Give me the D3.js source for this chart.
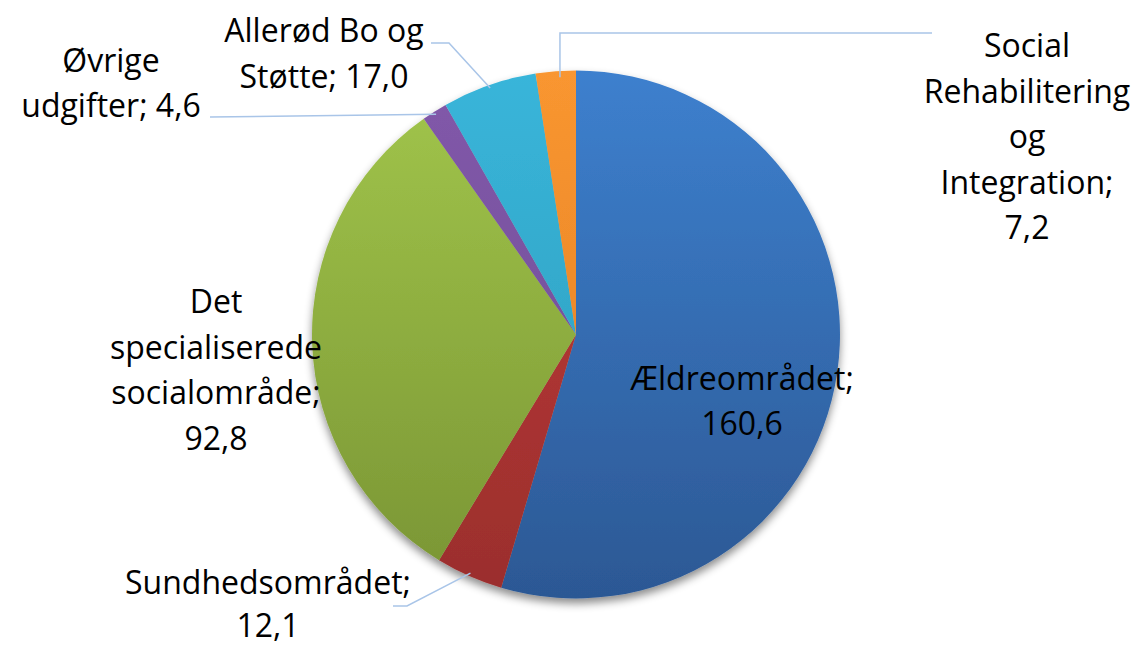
<!DOCTYPE html>
<html><head><meta charset="utf-8">
<script src="https://cdn.jsdelivr.net/npm/d3@7"></script>
<style>body{margin:0;background:#fff}</style>
</head><body><svg id="c" width="1138" height="646"></svg>
<script>
// ---- data ----
const categories = ["Ældreområdet", "Sundhedsområdet", "Det specialiserede socialområde", "Øvrige udgifter", "Allerød Bo og Støtte", "Social Rehabilitering og Integration"];
const values = [160.6, 12.1, 92.8, 4.6, 17.0, 7.2];
const colorsTop = ["#3d80ce", "#c23c37", "#a2c64b", "#8259aa", "#39b5da", "#f99630"];
const colorsBottom = ["#2c5894", "#9a2e2d", "#799434", "#6c4b92", "#2c9bb9", "#e07d24"];

// ---- layout ----
const W = 1138, H = 646, cx = 576, cy = 334.5, R = 264;
const FONT = "'Open Sans', sans-serif", FS = 32;
// words per line for each label, centre x, baselines, leader bends
const labelLayout = [
  { words: [1, 1], x: 742, y: [390, 435], bends: null },
  { words: [1, 1], x: 268, y: [594, 637], bends: [[407, 606], [393, 606]] },
  { words: [1, 1, 1, 1], x: 216, y: [313, 359, 404, 450], bends: null },
  { words: [1, 2], x: 111, y: [72, 117], bends: [[210, 117]] },
  { words: [3, 2], x: 324, y: [42, 88], bends: [[449, 43], [431, 43]] },
  { words: [1, 1, 1, 1, 1], x: 1027, y: [57, 103, 148, 194, 239], bends: "vertical", end: [932, 33] }
];

const fmt = v => d3.format(".1f")(v).replace(".", ",");

const svg = d3.select("#c");
const defs = svg.append("defs");
const f = defs.append("filter").attr("id", "sh").attr("x", "-10%").attr("y", "-10%").attr("width", "120%").attr("height", "125%");
f.append("feDropShadow").attr("dx", 0).attr("dy", 5).attr("stdDeviation", 4).attr("flood-color", "#000").attr("flood-opacity", 0.45);

categories.forEach((c, i) => {
  const g = defs.append("linearGradient").attr("id", "g" + i)
    .attr("gradientUnits", "userSpaceOnUse")
    .attr("x1", 0).attr("x2", 0).attr("y1", -R).attr("y2", R);
  g.append("stop").attr("offset", "0%").attr("stop-color", colorsTop[i]);
  g.append("stop").attr("offset", "100%").attr("stop-color", colorsBottom[i]);
});

const data = categories.map((c, i) => ({ name: c, value: values[i], i }));
const pie = d3.pie().sort(null).value(d => d.value);
const arcs = pie(data);
const arc = d3.arc().innerRadius(0).outerRadius(R);
const anchorArc = d3.arc().innerRadius(R - 3).outerRadius(R - 3);

const gp = svg.append("g").attr("transform", `translate(${cx},${cy})`);
gp.append("g").attr("filter", "url(#sh)")
  .selectAll("path").data(arcs).join("path")
  .attr("d", arc)
  .attr("fill", d => `url(#g${d.data.i})`);

// leader lines
const line = d3.line();
arcs.forEach(a => {
  const L = labelLayout[a.data.i];
  if (!L.bends) return;
  const c = anchorArc.centroid(a);
  const p0 = [cx + c[0], cy + c[1]];
  let pts;
  if (L.bends === "vertical") pts = [[p0[0] + 4, p0[1] + 3], [p0[0] + 4, L.end[1]], L.end];
  else pts = [p0, ...L.bends];
  svg.append("path").attr("d", line(pts)).attr("fill", "none")
    .attr("stroke", "#a9c5e8").attr("stroke-width", 1.5);
});

// labels
arcs.forEach(a => {
  const L = labelLayout[a.data.i];
  const words = (a.data.name + "; " + fmt(a.data.value)).split(" ");
  const lines = [];
  let k = 0;
  L.words.forEach(n => { lines.push(words.slice(k, k + n).join(" ")); k += n; });
  const t = svg.append("text").attr("text-anchor", "middle")
    .attr("font-family", FONT).attr("font-size", FS).attr("fill", "#000");
  lines.forEach((s, j) => t.append("tspan").attr("x", L.x).attr("y", L.y[j]).text(s));
});
</script></body></html>
